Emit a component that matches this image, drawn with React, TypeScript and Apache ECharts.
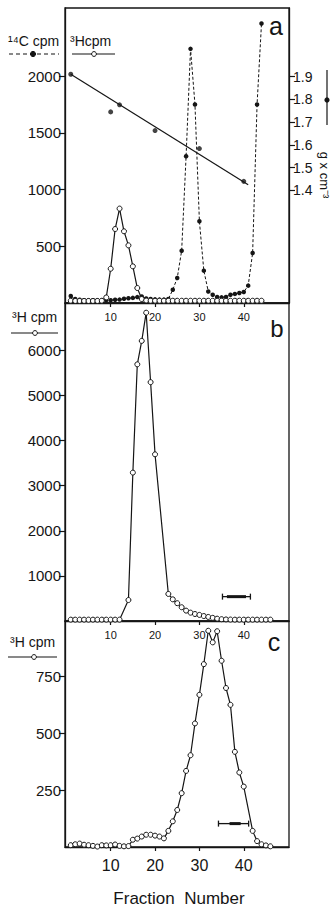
import React, { useEffect, useRef } from "react";
import * as echarts from "echarts";

// ---------- data ----------
// Panel a: 3H cpm (fractions 1..44)
const fracA = [1,2,3,4,5,6,7,8,9,10,11,12,13,14,15,16,17,18,19,20,21,22,23,24,25,26,27,28,29,30,31,32,33,34,35,36,37,38,39,40,41,42,43,44];
const h3A = [20,18,18,18,18,18,18,20,49,302,652,832,632,508,323,132,35,22,20,20,20,20,20,20,20,20,20,20,20,20,20,20,20,20,20,20,20,20,20,20,20,20,20,20];
// Panel a: 14C cpm
const c14A = [62,35,28,25,25,25,25,25,25,25,28,30,38,42,45,52,58,40,35,32,30,30,35,117,220,461,1293,2240,1750,720,285,102,73,53,50,53,73,80,88,97,153,441,1750,2463];
// Panel a: density (g x cm-3)
const densFrac = [1, 10, 12, 20, 30, 40];
const densVal = [1.91, 1.745, 1.776, 1.663, 1.584, 1.44];
const fitFrac = [1, 41];
const fitVal = [1.91, 1.425];

// Panel b: 3H cpm
const fracB = [1,2,3,4,5,6,7,8,9,10,11,12,14,15,16,17,18,19,20,23,24,25,26,27,28,29,30,31,32,33,34,35,36,37,38,39,40,41,42,43,44,45,46];
const h3B = [30,30,30,30,30,30,30,30,30,30,30,30,465,3290,5690,6210,6835,5295,3695,600,480,395,305,230,185,155,135,110,90,70,52,40,35,32,30,30,30,30,30,30,30,30,30];
const markerB = [35.2, 41.5, 540, 36.2, 40.5]; // from, to, level, core from, core to

// Panel c: 3H cpm
const fracC = [1,2,3,4,5,6,7,8,9,10,11,12,13,14,15,16,17,18,19,20,21,22,23,24,25,26,27,28,29,30,31,32,33,34,35,36,37,38,39,40,42,43,44,45,46];
const h3C = [8,12,15,10,8,5,2,8,7,8,11,5,3,4,32,37,46,54,54,50,46,38,71,113,163,237,335,404,544,670,805,952,901,950,820,700,626,419,328,266,71,26,12,7,3];
const markerC = [34.3, 41.1, 103, 36.8, 39.3];

// ticks
const xTicks = [10, 20, 30, 40];
const yTicksA = [500, 1000, 1500, 2000];
const yTicksDens = [1.4, 1.5, 1.6, 1.7, 1.8, 1.9];
const yTicksB = [1000, 2000, 3000, 4000, 5000, 6000];
const yTicksC = [250, 500, 750];

const FONT = "'Liberation Sans', Arial, sans-serif";
const INK = "#151515";

const zip = (xs: number[], ys: number[]) => xs.map((x, i) => [x, ys[i]]);

function xAxis(gridIndex: number, fontSize: number, margin: number) {
  return {
    type: "value",
    gridIndex,
    min: -0.3,
    max: 50.2,
    axisLine: { show: true, onZero: false, lineStyle: { color: INK, width: 1.3 } },
    axisTick: { show: true, length: 4, customValues: xTicks, lineStyle: { color: INK, width: 1.2 } },
    axisLabel: {
      show: true,
      customValues: xTicks,
      fontSize,
      color: INK,
      margin,
      fontFamily: FONT,
      formatter: (v: number) => String(v),
    },
    splitLine: { show: false },
  };
}

function yAxis(gridIndex: number, min: number, max: number, ticks: number[], opts: any = {}) {
  return {
    type: "value",
    gridIndex,
    min,
    max,
    position: opts.position || "left",
    axisLine: { show: true, onZero: false, lineStyle: { color: INK, width: 1.3 } },
    axisTick: { show: true, length: 6, customValues: ticks, lineStyle: { color: INK, width: 1.2 } },
    axisLabel: {
      show: true,
      customValues: ticks,
      fontSize: opts.fontSize || 15,
      color: INK,
      margin: 4,
      fontFamily: FONT,
      formatter: opts.formatter || ((v: number) => String(v)),
    },
    splitLine: { show: false },
  };
}

const openCircle = { color: "#fff", borderColor: INK, borderWidth: 1 };

function h3Series(x: number, y: number, data: number[][]) {
  return {
    type: "line",
    xAxisIndex: x,
    yAxisIndex: y,
    data,
    symbol: "circle",
    symbolSize: 5,
    showSymbol: true,
    itemStyle: openCircle,
    lineStyle: { color: INK, width: 1.2 },
    z: 4,
  };
}

function markerSeries(x: number, y: number, m: number[]) {
  return {
    type: "custom",
    xAxisIndex: x,
    yAxisIndex: y,
    data: [m],
    encode: { x: [0, 1], y: 2 },
    renderItem: (_p: any, api: any) => {
      const lv = api.value(2);
      const p1 = api.coord([api.value(0), lv]);
      const p2 = api.coord([api.value(1), lv]);
      const t1 = api.coord([api.value(3), lv]);
      const t2 = api.coord([api.value(4), lv]);
      const st = { stroke: INK, lineWidth: 1.3 };
      return {
        type: "group",
        children: [
          { type: "line", shape: { x1: p1[0], y1: p1[1], x2: p2[0], y2: p2[1] }, style: st },
          { type: "line", shape: { x1: t1[0], y1: t1[1], x2: t2[0], y2: t2[1] }, style: { stroke: INK, lineWidth: 3 } },
          { type: "line", shape: { x1: p1[0], y1: p1[1] - 3, x2: p1[0], y2: p1[1] + 3 }, style: st },
          { type: "line", shape: { x1: p2[0], y1: p2[1] - 3, x2: p2[0], y2: p2[1] + 3 }, style: st },
        ],
      };
    },
    z: 5,
  };
}

function legendLine(x1: number, x2: number, y: number, cx: number, filled: boolean, dashed: boolean) {
  return [
    {
      type: "line",
      shape: { x1, y1: y, x2, y2: y },
      style: { stroke: INK, lineWidth: 1.2, lineDash: dashed ? [4, 3] : null },
    },
    {
      type: "circle",
      shape: { cx, cy: y, r: filled ? 2.6 : 2.4 },
      style: { fill: filled ? INK : "#fff", stroke: INK, lineWidth: 1 },
    },
  ];
}

function txt(x: number, y: number, text: string, fontSize: number, align = "left") {
  return {
    type: "text",
    x,
    y,
    style: { text, fontSize, fontFamily: FONT, fill: INK, align, verticalAlign: "middle" },
  };
}

export default function App() {
  const ref = useRef<HTMLDivElement>(null);
  useEffect(() => {
    if (!ref.current) return;
    const chart = echarts.init(ref.current, null, { renderer: "svg" });
    const gridCommon = { left: 65, width: 224, show: true, borderColor: INK, borderWidth: 1.3, backgroundColor: "transparent" };
    chart.setOption({
      animation: false,
      grid: [
        { ...gridCommon, top: 8, height: 295 },
        { ...gridCommon, top: 303, height: 318 },
        { ...gridCommon, top: 621, height: 226 },
      ],
      xAxis: [xAxis(0, 11, 8), xAxis(1, 11, 8), xAxis(2, 16, 10)],
      yAxis: [
        yAxis(0, 0, 2600, yTicksA),
        yAxis(0, 0.906, 2.201, yTicksDens, {
          position: "right",
          fontSize: 14,
          formatter: (v: number) => v.toFixed(1),
        }),
        yAxis(1, 0, 7050, yTicksB),
        yAxis(2, 0, 995, yTicksC),
      ],
      series: [
        {
          type: "line",
          xAxisIndex: 0,
          yAxisIndex: 1,
          data: zip(fitFrac, fitVal),
          symbol: "none",
          lineStyle: { color: INK, width: 1.2 },
          z: 2,
        },
        {
          type: "scatter",
          xAxisIndex: 0,
          yAxisIndex: 1,
          data: zip(densFrac, densVal),
          symbol: "circle",
          symbolSize: 5,
          itemStyle: { color: INK },
          z: 3,
        },
        {
          type: "line",
          xAxisIndex: 0,
          yAxisIndex: 0,
          data: zip(fracA, c14A),
          symbol: "circle",
          symbolSize: 4.5,
          itemStyle: { color: INK },
          lineStyle: { color: INK, width: 1, type: [3, 2] },
          z: 3,
        },
        h3Series(0, 0, zip(fracA, h3A)),
        h3Series(1, 2, zip(fracB, h3B)),
        markerSeries(1, 2, markerB),
        h3Series(2, 3, zip(fracC, h3C)),
        markerSeries(2, 3, markerC),
      ],
      graphic: [
        // panel a legends
        txt(8, 41, "¹⁴C cpm", 14),
        ...legendLine(9, 59, 54, 33, true, true),
        txt(70, 41, "³Hcpm", 14),
        ...legendLine(72, 115, 54, 94, false, false),
        txt(276, 26, "a", 25, "center"),
        // right axis legend / title
        { type: "line", shape: { x1: 327, y1: 70, x2: 327, y2: 125 }, style: { stroke: INK, lineWidth: 1.2 } },
        { type: "circle", shape: { cx: 327, cy: 100, r: 2.6 }, style: { fill: INK } },
        {
          type: "text",
          x: 324,
          y: 175,
          rotation: -Math.PI / 2,
          style: { text: "g x cm⁻³", fontSize: 13, fontFamily: FONT, fill: INK, align: "center", verticalAlign: "middle" },
        },
        // panel b
        txt(12, 317, "³H cpm", 14),
        ...legendLine(11, 58, 333, 35, false, false),
        txt(277, 328, "b", 24, "center"),
        // panel c
        txt(10, 642, "³H cpm", 14),
        ...legendLine(8, 57, 657, 34, false, false),
        txt(274, 642, "c", 25, "center"),
        // x title
        txt(179, 898, "Fraction  Number", 17, "center"),
      ],
    });
    return () => chart.dispose();
  }, []);
  return <div ref={ref} style={{ position: "absolute", left: 0, top: 0, width: 332, height: 906 }} />;
}
